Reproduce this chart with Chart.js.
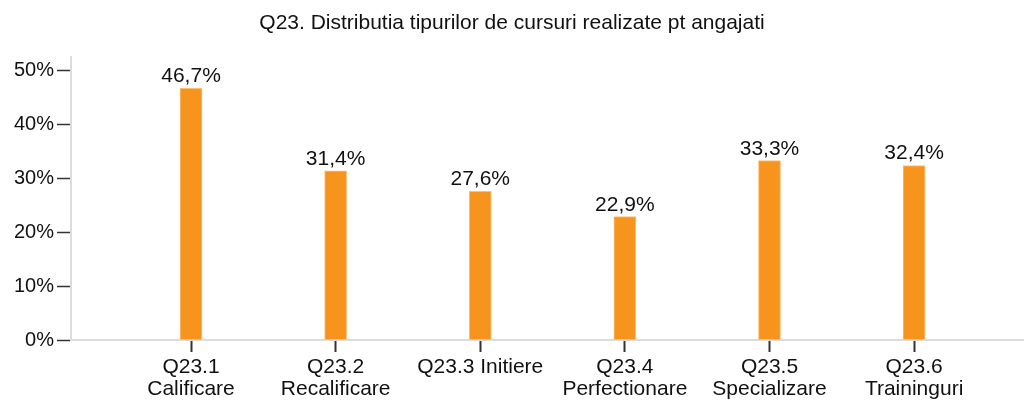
<!DOCTYPE html>
<html>
<head>
<meta charset="utf-8">
<title>Q23</title>
<script src="https://cdn.jsdelivr.net/npm/chart.js@4/dist/chart.umd.min.js"></script>
<style>
  html, body { margin: 0; padding: 0; background: #fff; }
  #wrap { width: 1024px; height: 400px; }
</style>
</head>
<body>
<div id="wrap"><canvas id="chart1"></canvas></div>
<script>
// tipuri de cursuri si procentele lor
const categories = [
    ['Q23.1', 'Calificare'],
    ['Q23.2', 'Recalificare'],
    ['Q23.3 Initiere'],
    ['Q23.4', 'Perfectionare'],
    ['Q23.5', 'Specializare'],
    ['Q23.6', 'Traininguri']
]
const values = [46.7, 31.4, 27.6, 22.9, 33.3, 32.4]
const yTicks = [0, 10, 20, 30, 40, 50]

const FONT = 'Liberation Sans, Arial, sans-serif'

function pct(v) {
    return v.toFixed(1).replace('.', ',') + '%'
}

// eticheta cu valoarea deasupra fiecarei bare
const valueLabels = {
    id: 'valueLabels',
    afterDatasetsDraw(chart) {
        const ctx = chart.ctx
        const meta = chart.getDatasetMeta(0)
        ctx.save()
        ctx.font = '21px ' + FONT
        ctx.fillStyle = '#111'
        ctx.textAlign = 'center'
        ctx.textBaseline = 'alphabetic'
        meta.data.forEach((bar, i) => {
            ctx.fillText(pct(values[i]), bar.x, bar.y - 6)
        })
        ctx.restore()
    }
}

window.onload = () => {
    const ctx = document.getElementById('chart1').getContext('2d')
    window.myBar = new Chart(ctx, {
        type: 'bar',
        data: {
            datasets: [{
                data: values.map((v, i) => ({ x: i + 1, y: v })),
                backgroundColor: '#F7941E',
                borderColor: '#FBBE72',
                borderWidth: 1,
                barThickness: 22
            }]
        },
        options: {
            responsive: true,
            maintainAspectRatio: false,
            animation: false,
            layout: { padding: 0 },
            plugins: {
                legend: { display: false },
                tooltip: { enabled: false },
                title: {
                    display: true,
                    text: 'Q23. Distributia tipurilor de cursuri realizate pt angajati',
                    color: '#111',
                    font: { family: FONT, size: 21, weight: 'normal', lineHeight: 1.2 },
                    padding: { top: 11, bottom: 21 }
                }
            },
            scales: {
                x: {
                    type: 'linear',
                    offset: false,
                    min: 0.17,
                    max: 6.76,
                    border: { color: '#dcdcdc', width: 2 },
                    grid: {
                        offset: false,
                        drawOnChartArea: false,
                        drawTicks: true,
                        tickLength: 12,
                        tickColor: '#333',
                        tickWidth: 2
                    },
                    ticks: {
                        stepSize: 1,
                        includeBounds: false,
                        autoSkip: false,
                        maxRotation: 0,
                        padding: 4,
                        color: '#111',
                        font: { family: FONT, size: 21, lineHeight: 1.05 },
                        callback: (v) => categories[v - 1] || ''
                    },
                    afterFit: (scale) => { scale.height = 60 }
                },
                y: {
                    min: 0,
                    max: 52.5,
                    border: { color: '#dcdcdc', width: 2 },
                    grid: {
                        drawOnChartArea: false,
                        drawTicks: true,
                        tickLength: 14,
                        tickColor: '#333',
                        tickWidth: 1.5
                    },
                    afterBuildTicks: (scale) => {
                        scale.ticks = yTicks.map(v => ({ value: v }))
                    },
                    ticks: {
                        padding: 3,
                        color: '#111',
                        font: { family: FONT, size: 20 },
                        callback: (v) => v + '%'
                    },
                    afterFit: (scale) => { scale.width = 71 }
                }
            }
        },
        plugins: [valueLabels]
    })
}
</script>
</body>
</html>
